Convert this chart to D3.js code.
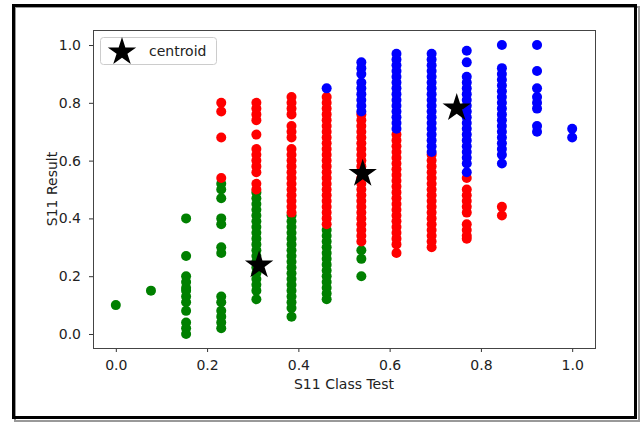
<!DOCTYPE html>
<html>
<head>
<meta charset="utf-8">
<script src="https://cdn.jsdelivr.net/npm/d3@7"></script>
<style>
  body { margin: 0; background: #fff; }
  text { font-family: "DejaVu Sans", sans-serif; }
</style>
</head>
<body>
<div id="chart"></div>
<script>
//cluster points, one entry per class test column: [x, list of results]
var greenPoints = [
  [0.000, [0.10]],
  [0.077, [0.15]],
  [0.154, [0.40, 0.27, 0.20, 0.18, 0.16, 0.15, 0.13, 0.11, 0.08, 0.04, 0.02, 0.00]],
  [0.231, [0.52, 0.50, 0.47, 0.40, 0.38, 0.30, 0.28, 0.13, 0.11, 0.08, 0.06, 0.04, 0.02]],
  [0.308, [0.49, 0.47, 0.45, 0.43, 0.41, 0.39, 0.37, 0.35, 0.33, 0.31, 0.29, 0.27, 0.25, 0.23, 0.21, 0.19, 0.17, 0.15, 0.12]],
  [0.385, [0.41, 0.39, 0.37, 0.35, 0.33, 0.31, 0.29, 0.27, 0.25, 0.23, 0.21, 0.19, 0.17, 0.15, 0.13, 0.11, 0.09, 0.06]],
  [0.462, [0.36, 0.34, 0.32, 0.30, 0.28, 0.26, 0.24, 0.22, 0.20, 0.18, 0.16, 0.14, 0.12]],
  [0.538, [0.29, 0.26, 0.20]]
];
var redPoints = [
  [0.231, [0.80, 0.77, 0.68, 0.54]],
  [0.308, [0.80, 0.78, 0.76, 0.74, 0.69, 0.64, 0.62, 0.60, 0.58, 0.56, 0.52, 0.50]],
  [0.385, [0.82, 0.80, 0.78, 0.76, 0.72, 0.70, 0.68, 0.64, 0.62, 0.60, 0.58, 0.56, 0.54, 0.52, 0.50, 0.48, 0.46, 0.44, 0.42]],
  [0.462, [0.82, 0.80, 0.78, 0.76, 0.74, 0.72, 0.70, 0.68, 0.66, 0.64, 0.62, 0.60, 0.58, 0.56, 0.54, 0.52, 0.50, 0.48, 0.46, 0.44, 0.42, 0.40, 0.38]],
  [0.538, [0.76, 0.74, 0.72, 0.70, 0.68, 0.66, 0.64, 0.62, 0.60, 0.58, 0.56, 0.54, 0.52, 0.50, 0.48, 0.46, 0.44, 0.42, 0.40, 0.38, 0.36, 0.34, 0.32]],
  [0.615, [0.69, 0.67, 0.65, 0.63, 0.61, 0.59, 0.57, 0.55, 0.53, 0.51, 0.49, 0.47, 0.45, 0.43, 0.41, 0.39, 0.37, 0.35, 0.33, 0.31, 0.28]],
  [0.692, [0.62, 0.60, 0.58, 0.56, 0.54, 0.52, 0.50, 0.48, 0.46, 0.44, 0.42, 0.40, 0.38, 0.36, 0.34, 0.32, 0.30]],
  [0.769, [0.54, 0.50, 0.48, 0.46, 0.44, 0.42, 0.38, 0.36, 0.34, 0.33]],
  [0.846, [0.44, 0.41]]
];
var bluePoints = [
  [0.462, [0.85]],
  [0.538, [0.94, 0.92, 0.90, 0.87, 0.85, 0.83, 0.81, 0.79, 0.77]],
  [0.615, [0.97, 0.95, 0.93, 0.91, 0.89, 0.87, 0.85, 0.83, 0.81, 0.79, 0.77, 0.75, 0.73, 0.71]],
  [0.692, [0.97, 0.95, 0.93, 0.91, 0.89, 0.87, 0.85, 0.83, 0.81, 0.79, 0.77, 0.75, 0.73, 0.71, 0.69, 0.67, 0.65, 0.63]],
  [0.769, [0.98, 0.94, 0.89, 0.87, 0.85, 0.83, 0.81, 0.79, 0.77, 0.75, 0.73, 0.71, 0.69, 0.67, 0.65, 0.63, 0.61, 0.59, 0.56]],
  [0.846, [1.00, 0.92, 0.90, 0.88, 0.86, 0.84, 0.82, 0.80, 0.78, 0.76, 0.74, 0.72, 0.70, 0.68, 0.66, 0.64, 0.62, 0.59]],
  [0.923, [1.00, 0.91, 0.85, 0.82, 0.80, 0.78, 0.72, 0.70]],
  [1.000, [0.71, 0.68]]
];
var clusterColors = ["green", "red", "blue"];
//centroids of the three clusters
var centroidX = [0.314, 0.541, 0.747];
var centroidY = [0.238, 0.555, 0.782];
var xTicks = [0.0, 0.2, 0.4, 0.6, 0.8, 1.0];
var yTicks = [0.0, 0.2, 0.4, 0.6, 0.8, 1.0];

//constructor
function ClusterChart(_clusters) {
  var vis = this;
  vis.clusters = _clusters;
  vis.init();
}

ClusterChart.prototype.init = function() {
  var vis = this;
  vis.svgWidth = 642;
  vis.svgHeight = 423;
  vis.svg = d3.select("#chart").append("svg")
    .attr("width", vis.svgWidth)
    .attr("height", vis.svgHeight);

  //outer frame with a soft shadow
  vis.svg.append("rect")
    .attr("x", 15).attr("y", 7)
    .attr("width", 624).attr("height", 414)
    .style("fill", "none").style("stroke", "#999").style("stroke-width", 2);
  vis.svg.append("rect")
    .attr("x", 13.5).attr("y", 5.5)
    .attr("width", 622).attr("height", 412)
    .style("fill", "none").style("stroke", "#000").style("stroke-width", 3);

  //plot area
  vis.left = 93; vis.right = 595; vis.top = 30; vis.bottom = 348;
  vis.x = d3.scaleLinear().domain([-0.05, 1.05]).range([vis.left, vis.right]);
  vis.y = d3.scaleLinear().domain([-0.0485, 1.052]).range([vis.bottom, vis.top]);

  vis.update();
};

ClusterChart.prototype.update = function() {
  var vis = this;

  //flatten columns into points
  vis.clusters.forEach(function(cluster, i) {
    var pts = [];
    cluster.forEach(function(col) {
      col[1].forEach(function(v) { pts.push({ x: col[0], y: v }); });
    });
    vis.svg.append("g").selectAll("circle")
      .data(pts)
      .enter().append("circle")
      .attr("cx", function(d) { return vis.x(d.x); })
      .attr("cy", function(d) { return vis.y(d.y); })
      .attr("r", 5)
      .style("fill", clusterColors[i]);
  });

  //centroid stars
  var star = d3.symbol().type(d3.symbolStar).size(250);
  vis.svg.append("g").selectAll("path")
    .data(centroidX)
    .enter().append("path")
    .attr("d", star)
    .attr("transform", function(d, i) {
      return "translate(" + vis.x(d) + "," + vis.y(centroidY[i]) + ")";
    })
    .style("fill", "#000");

  //axes
  var xAxis = d3.axisBottom(vis.x).tickValues(xTicks).tickFormat(d3.format(".1f")).tickSizeOuter(0).tickSize(4).tickPadding(8);
  var yAxis = d3.axisLeft(vis.y).tickValues(yTicks).tickFormat(d3.format(".1f")).tickSizeOuter(0).tickSize(4).tickPadding(8);
  var gx = vis.svg.append("g").attr("transform", "translate(0," + vis.bottom + ")").call(xAxis);
  var gy = vis.svg.append("g").attr("transform", "translate(" + vis.left + ",0)").call(yAxis);
  [gx, gy].forEach(function(g) {
    g.select(".domain").remove();
    g.selectAll("line").style("stroke", "#333");
    g.selectAll("text").style("font-size", "14px").style("fill", "#222")
      .style("font-family", "DejaVu Sans, sans-serif");
  });

  //spines
  vis.svg.append("rect")
    .attr("x", vis.left + 0.5).attr("y", vis.top + 0.5)
    .attr("width", vis.right - vis.left).attr("height", vis.bottom - vis.top)
    .style("fill", "none").style("stroke", "#444").style("stroke-width", 1);

  //axis labels
  vis.svg.append("text")
    .text("S11 Class Test")
    .attr("x", (vis.left + vis.right) / 2)
    .attr("y", 389)
    .style("fill", "#222")
    .style("text-anchor", "middle")
    .style("font-size", "14px");
  vis.svg.append("text")
    .text("S11 Result")
    .attr("transform", "translate(57," + (vis.top + vis.bottom) / 2 + ") rotate(-90)")
    .style("fill", "#222")
    .style("text-anchor", "middle")
    .style("font-size", "14px");

  //legend
  var legend = vis.svg.append("g");
  legend.append("rect")
    .attr("x", 100.5).attr("y", 37.5)
    .attr("width", 116).attr("height", 27).attr("rx", 3)
    .style("fill", "#fff").style("fill-opacity", 0.8)
    .style("stroke", "#ccc");
  legend.append("path")
    .attr("d", star)
    .attr("transform", "translate(122,52)")
    .style("fill", "#000");
  legend.append("text")
    .text("centroid")
    .attr("x", 149)
    .attr("y", 56)
    .style("fill", "#222")
    .style("font-size", "14px");
};

var chart = new ClusterChart([greenPoints, redPoints, bluePoints]);
</script>
</body>
</html>
